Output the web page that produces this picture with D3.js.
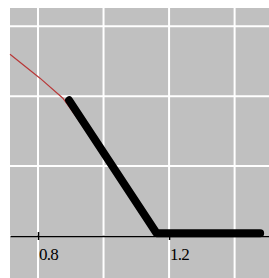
<!DOCTYPE html>
<html>
<head>
<meta charset="utf-8">
<script src="https://cdn.jsdelivr.net/npm/d3@7"></script>
<style>
  html, body { margin: 0; padding: 0; background: #fff; }
  svg { display: block; }
</style>
</head>
<body>
<div id="drawing"></div>
<script>
// values
var xGrid = [0.8, 1.0, 1.2, 1.4];
var yGrid = [0, 1, 2, 3];
var xTickLabels = [0.8, 1.2];

// thick black curve
var blackX = [0.895, 1.162, 1.478];
var blackY = [1.94, 0.04, 0.04];

// thin red curve
var redX = [0.7145, 0.806, 0.876, 0.989, 1.16];
var redY = [2.6, 2.257, 1.97, 1.23, 0.04];

var W = 269, H = 278;

function main() {
    var svg = d3.select("#drawing").append("svg")
        .attr("width", W)
        .attr("height", H);

    var x = d3.scaleLinear().domain([0.7145, 1.505]).range([10, 269]);
    var y = d3.scaleLinear().domain([-0.6, 3.26]).range([278, 8]);

    // panel
    svg.append("rect")
        .attr("x", x.range()[0])
        .attr("y", y.range()[1])
        .attr("width", x.range()[1] - x.range()[0])
        .attr("height", y.range()[0] - y.range()[1])
        .attr("fill", "#c0c0c0");

    // grid
    svg.selectAll(".vgrid")
        .data(xGrid)
        .enter().append("line")
        .attr("class", "vgrid")
        .attr("x1", function (d) { return x(d); })
        .attr("x2", function (d) { return x(d); })
        .attr("y1", y.range()[1])
        .attr("y2", y.range()[0])
        .attr("stroke", "#fff")
        .attr("stroke-width", 2);
    svg.selectAll(".hgrid")
        .data(yGrid)
        .enter().append("line")
        .attr("class", "hgrid")
        .attr("x1", x.range()[0])
        .attr("x2", x.range()[1])
        .attr("y1", function (d) { return y(d); })
        .attr("y2", function (d) { return y(d); })
        .attr("stroke", "#fff")
        .attr("stroke-width", 2);

    // axis at y = 0
    var ax = svg.append("g")
        .attr("transform", "translate(0," + y(0) + ")")
        .call(d3.axisBottom(x)
            .tickValues(xTickLabels)
            .tickSizeOuter(0)
            .tickSizeInner(4)
            .tickFormat(d3.format(".1f")));
    ax.select(".domain").attr("stroke", "#000").attr("stroke-width", 1.5);
    ax.selectAll(".tick line").attr("y1", -4).attr("y2", 4)
        .attr("stroke", "#000").attr("stroke-width", 1.5);
    ax.selectAll(".tick text")
        .attr("x", 0.5).attr("y", 24).attr("dy", 0)
        .attr("text-anchor", "start")
        .attr("fill", "#000")
        .style("font-family", "'Liberation Serif', 'DejaVu Serif', serif")
        .style("font-size", "17px")
        .style("letter-spacing", "-0.8px");

    var line = d3.line()
        .x(function (d) { return x(d[0]); })
        .y(function (d) { return y(d[1]); });

    svg.append("path")
        .datum(d3.zip(redX, redY))
        .attr("d", line)
        .attr("fill", "none")
        .attr("stroke", "#b83838")
        .attr("stroke-width", 1.2);

    svg.append("path")
        .datum(d3.zip(blackX, blackY))
        .attr("d", line)
        .attr("fill", "none")
        .attr("stroke", "#000")
        .attr("stroke-width", 8)
        .attr("stroke-linecap", "round")
        .attr("stroke-linejoin", "round");
}
main();
</script>
</body>
</html>
